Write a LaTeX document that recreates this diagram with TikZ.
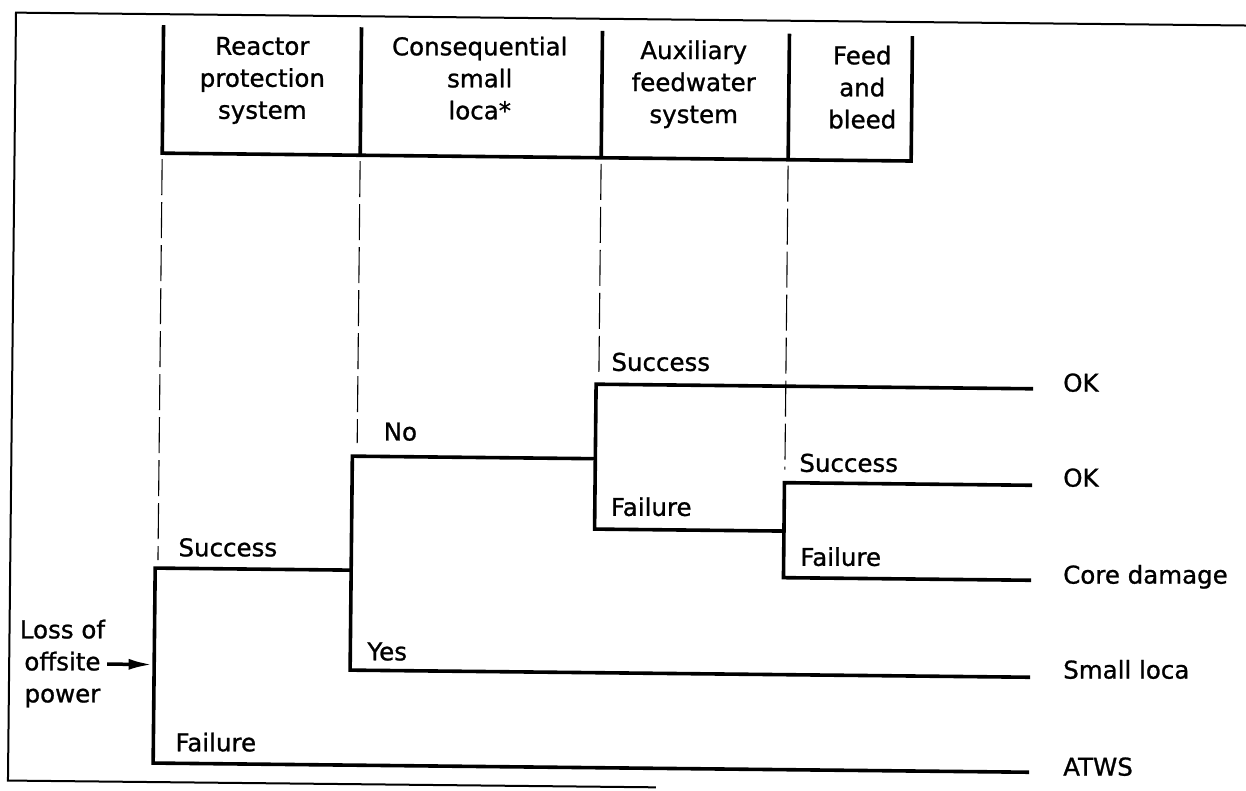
\documentclass[tikz,border=0pt]{standalone}
\usepackage{fontspec}
\setmainfont{DejaVu Sans}
\newfontfamily\lblfont{DejaVu Sans}[FakeBold=1]
\usetikzlibrary{arrows.meta}
\begin{document}
\begin{tikzpicture}[x=1pt,y=-1pt,
  tree/.style={line width=3.6pt, line join=miter},
  hdr/.style={line width=3.6pt, line join=miter},
  framel/.style={line width=2pt, line join=miter},
  guide/.style={line width=1.1pt, dash pattern=on 36pt off 7pt},
  lbl/.style={font=\lblfont\fontsize{24.5}{32}\selectfont, inner sep=0pt, anchor=base west},
  htxt/.style={font=\lblfont\fontsize{24.5}{32}\selectfont, inner sep=0pt, align=center, anchor=north}]
\useasboundingbox (0,0) rectangle (1246,791);
\clip (0,0) rectangle (1246,791);
\fill[white] (0,0) rectangle (1246,791);
\begin{scope}[rotate around={-0.6:(623,395)}]
  % outer frame
  \coordinate (fTR) at (1275,19);
  \coordinate (fTL) at (12,19);
  \coordinate (fBL) at (12,787);
  \coordinate (fBR) at (660,787);
  \draw[framel] (fTR) -- (fTL) -- (fBL) -- (fBR);

  % header boxes
  \coordinate (h1t) at (159.7,30);  \coordinate (h1b) at (159.7,158);
  \coordinate (h2t) at (357.7,30);  \coordinate (h2b) at (357.7,158);
  \coordinate (h3t) at (598.7,31);  \coordinate (h3b) at (598.7,158);
  \coordinate (h4t) at (785.7,32);  \coordinate (h4b) at (785.7,158);
  \coordinate (h5t) at (908.7,33);  \coordinate (h5b) at (908.7,158);
  \draw[hdr] (h1t) -- (h1b) -- (h5b) -- (h5t);
  \draw[hdr] (h2t) -- (h2b);
  \draw[hdr] (h3t) -- (h3b);
  \draw[hdr] (h4t) -- (h4b);

  \node[htxt] (hrps) at (258.6,40.5) {Reactor\\protection\\system};
  \node[htxt] (hcsl) at (476,38) {Consequential\\small\\loca*};
  \node[htxt] (hafw) at (690,39.5) {Auxiliary\\feedwater\\system};
  \node[htxt] (hfb)  at (858.6,43) {Feed\\and\\bleed};

  % dashed guide lines
  \coordinate (g1) at (159.7,565);
  \coordinate (g2) at (357.7,446);
  \coordinate (g3) at (598.7,373);
  \coordinate (g4) at (785.7,468);
  \draw[guide] ([yshift=-6pt]h1b) -- (g1);
  \draw[guide] ([yshift=-6pt]h2b) -- (g2);
  \draw[guide] ([yshift=-6pt]h3b) -- (g3);
  \draw[guide] ([yshift=-6pt]h4b) -- (g4);

  % tree junctions
  \coordinate (rS) at (157,573);
  \coordinate (rF) at (157,768);
  \coordinate (rA) at (155.5,669.5);
  \coordinate (cJ) at (353,573);
  \coordinate (cN) at (353,459);
  \coordinate (cY) at (353,673);
  \coordinate (aJ) at (596,459);
  \coordinate (aS) at (596,384.5);
  \coordinate (aF) at (596,529.4);
  \coordinate (fJ) at (785.4,529.4);
  \coordinate (fS) at (785.4,481);
  \coordinate (fF) at (785.4,576);
  \coordinate (e1) at (1033,384.5);
  \coordinate (e2) at (1033,481);
  \coordinate (e3) at (1033,576);
  \coordinate (e4) at (1033,673);
  \coordinate (e5) at (1033,768);

  \draw[tree] (cJ) -- (rS) -- (rF) -- (e5);
  \draw[tree] (aJ) -- (cN) -- (cY) -- (e4);
  \draw[tree] (e1) -- (aS) -- (aF) -- (fJ);
  \draw[tree] (e2) -- (fS) -- (fF) -- (e3);

  % initiating event
  \node[font=\lblfont\fontsize{24.5}{32}\selectfont, inner sep=0pt, align=center, anchor=north] (init) at (64.8,625.4) {Loss of\\offsite\\power};
  \draw[line width=3.5pt, -{Latex[length=24pt,width=11pt]}, shorten <=2pt] (init.east |- rA) -- (rA);

  % branch labels
  \node[lbl] (lrs) at (180,561) {Success};
  \node[lbl] (lrf) at (179,756) {Failure};
  \node[lbl] (lcn) at (384,443) {No};
  \node[lbl] (lcy) at (370,663) {Yes};
  \node[lbl] (las) at (611,371) {Success};
  \node[lbl] (laf) at (612,516) {Failure};
  \node[lbl] (lfs) at (800,470) {Success};
  \node[lbl] (lff) at (802,564) {Failure};

  % outcomes
  \node[lbl] (ok1) at (1063,387) {OK};
  \node[lbl] (ok2) at (1064,482) {OK};
  \node[lbl] (core) at (1065,579) {Core damage};
  \node[lbl] (sloca) at (1066,674) {Small loca};
  \node[lbl] (atws) at (1067,771) {ATWS};
\end{scope}
\end{tikzpicture}
\end{document}
